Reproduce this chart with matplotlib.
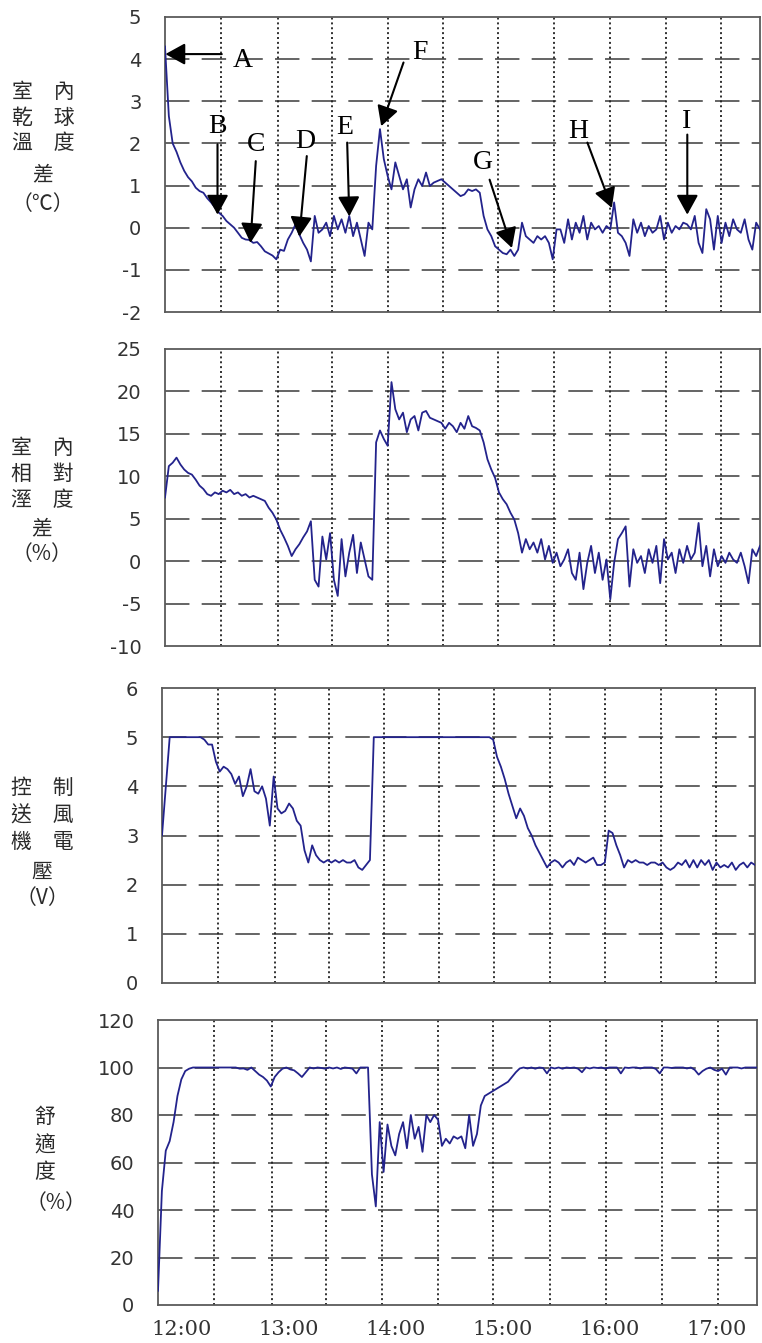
import numpy as np
import matplotlib
matplotlib.use('Agg')
from matplotlib import pyplot as plt

plt.rcParams['axes.unicode_minus'] = False

# time axis in hours, the record starts a little before 12:00
t_start = 11.776
t_end = 17.374
hour_ticks = [12, 13, 14, 15, 16, 17]
hour_labels = ['12:00', '13:00', '14:00', '15:00', '16:00', '17:00']
# the vertical grid of the original graphs is not on the hour
vgrid = [12.30, 12.84, 13.35, 13.87, 14.39, 14.91, 15.44, 15.96, 16.49, 17.01]

# indoor dry-bulb temperature difference (C)
temp_diff = [4.3, 2.65, 2.0, 1.8, 1.55, 1.35, 1.2, 1.1, 0.95, 0.87,
             0.83, 0.7, 0.6, 0.48, 0.36, 0.28, 0.16, 0.08, 0.0, -0.12,
             -0.24, -0.28, -0.29, -0.36, -0.34, -0.44, -0.56, -0.61, -0.66, -0.75,
             -0.52, -0.55, -0.28, -0.12, 0.08, -0.16, -0.36, -0.52, -0.8, 0.28,
             -0.12, -0.04, 0.12, -0.2, 0.28, -0.04, 0.2, -0.12, 0.28, -0.2,
             0.12, -0.28, -0.67, 0.12, -0.04, 1.47, 2.34, 1.63, 1.23, 0.91,
             1.55, 1.23, 0.91, 1.15, 0.48, 0.91, 1.15, 0.99, 1.31, 0.99,
             1.07, 1.11, 1.15, 1.07, 0.99, 0.91, 0.83, 0.75, 0.79, 0.91,
             0.87, 0.91, 0.83, 0.28, -0.04, -0.2, -0.44, -0.52, -0.6, -0.63,
             -0.52, -0.67, -0.52, 0.12, -0.2, -0.28, -0.36, -0.2, -0.28, -0.2,
             -0.36, -0.75, -0.04, -0.04, -0.36, 0.2, -0.28, 0.12, -0.12, 0.28,
             -0.28, 0.12, -0.04, 0.04, -0.12, 0.04, -0.04, 0.6, -0.12, -0.2,
             -0.36, -0.67, 0.2, -0.12, 0.12, -0.2, 0.04, -0.12, -0.04, 0.28,
             -0.28, 0.12, -0.12, 0.04, -0.04, 0.12, 0.08, -0.04, 0.28, -0.36,
             -0.6, 0.44, 0.2, -0.52, 0.28, -0.36, 0.12, -0.2, 0.2, -0.04,
             -0.12, 0.2, -0.28, -0.52, 0.12, -0.04]

# indoor relative humidity difference (%)
rh_diff = [7.5, 11.2, 11.6, 12.2, 11.4, 10.8, 10.4, 10.2, 9.6, 8.9,
           8.5, 7.9, 7.7, 8.1, 7.9, 8.3, 8.1, 8.4, 7.9, 8.1,
           7.7, 7.9, 7.5, 7.7, 7.5, 7.3, 7.1, 6.3, 5.7, 4.9,
           3.7, 2.8, 1.8, 0.6, 1.4, 2.0, 2.8, 3.5, 4.7, -2.2,
           -3.0, 2.9, 0.2, 3.3, -2.2, -4.1, 2.6, -1.8, 1.0, 3.1,
           -1.4, 2.2, 0.2, -1.8, -2.2, 14.0, 15.4, 14.4, 13.6, 21.1,
           17.9, 16.7, 17.5, 15.2, 16.7, 17.1, 15.4, 17.5, 17.7, 16.9,
           16.7, 16.5, 16.3, 15.6, 16.3, 15.9, 15.2, 16.3, 15.6, 17.1,
           15.9, 15.7, 15.4, 14.0, 12.0, 10.8, 9.8, 8.1, 7.3, 6.7,
           5.7, 4.9, 3.3, 1.0, 2.6, 1.4, 2.2, 1.0, 2.6, 0.2,
           1.8, -0.2, 1.0, -0.6, 0.2, 1.4, -1.4, -2.2, 1.0, -3.3,
           -0.2, 1.8, -1.4, 1.0, -2.2, 0.2, -4.5, -0.2, 2.6, 3.3,
           4.1, -3.0, 1.4, -0.2, 0.6, -1.4, 1.4, -0.2, 1.8, -2.6,
           2.6, 0.2, 1.0, -1.4, 1.4, -0.2, 1.8, 0.2, 1.0, 4.5,
           -0.6, 1.8, -1.8, 1.4, -0.6, 0.6, -0.2, 1.0, 0.2, -0.2,
           1.0, -0.6, -2.6, 1.4, 0.6, 1.8]

# fan control voltage (V)
fan_volt = [3.0, 4.0, 5.0, 5.0, 5.0, 5.0, 5.0, 5.0, 5.0, 5.0,
            5.0, 4.95, 4.85, 4.85, 4.5, 4.3, 4.4, 4.35, 4.25, 4.05,
            4.2, 3.8, 4.0, 4.35, 3.9, 3.85, 4.0, 3.75, 3.2, 4.2,
            3.55, 3.45, 3.5, 3.65, 3.55, 3.3, 3.2, 2.7, 2.45, 2.8,
            2.6, 2.5, 2.45, 2.5, 2.45, 2.5, 2.45, 2.5, 2.45, 2.45,
            2.5, 2.35, 2.3, 2.4, 2.5, 5.0, 5.0, 5.0, 5.0, 5.0,
            5.0, 5.0, 5.0, 5.0, 5.0, 5.0, 5.0, 5.0, 5.0, 5.0,
            5.0, 5.0, 5.0, 5.0, 5.0, 5.0, 5.0, 5.0, 5.0, 5.0,
            5.0, 5.0, 5.0, 5.0, 5.0, 5.0, 4.95, 4.6, 4.4, 4.15,
            3.85, 3.6, 3.35, 3.55, 3.4, 3.15, 3.0, 2.8, 2.65, 2.5,
            2.35, 2.45, 2.5, 2.45, 2.35, 2.45, 2.5, 2.4, 2.55, 2.5,
            2.45, 2.5, 2.55, 2.4, 2.4, 2.45, 3.1, 3.05, 2.8, 2.6,
            2.35, 2.5, 2.45, 2.5, 2.45, 2.45, 2.4, 2.45, 2.45, 2.4,
            2.45, 2.35, 2.3, 2.35, 2.45, 2.4, 2.5, 2.35, 2.5, 2.35,
            2.5, 2.4, 2.5, 2.3, 2.45, 2.35, 2.4, 2.35, 2.45, 2.3,
            2.4, 2.45, 2.35, 2.45, 2.4]

# comfort (%)
comfort = [6, 48, 65, 69, 77, 88, 95, 98.5, 99.5, 100,
           100, 100, 100, 100, 100, 100, 100, 100, 100, 100, 100,
           99.5, 99.6, 99.0, 100, 98.5, 97, 96, 94.5, 92,
           96, 98, 99.5, 100, 99.2, 98.8, 97.5, 96, 98, 100,
           99.6, 100, 99.8, 99.5, 100, 99.6, 100, 99.4, 100, 99.8,
           99.5, 97.5, 100, 100, 100, 55, 41.5, 77, 56, 76,
           67, 63, 72, 77, 66, 80, 70, 75, 64.5, 80,
           77, 80, 78, 67, 70, 68, 71, 70, 71, 66,
           80, 67, 72, 84, 88, 89, 90, 91, 92, 93,
           94, 96, 98, 99.6, 100, 99.6, 100, 99.5, 100, 99.8,
           97.5, 100, 99.6, 100, 99.5, 100, 99.8, 100, 99.5, 98,
           100, 99.6, 100, 99.8, 100, 99.5, 100, 100, 100, 97.5,
           100, 99.8, 100, 100, 99.6, 100, 100, 100, 99.4, 97.5,
           100, 100, 99.8, 100, 100, 100, 99.6, 100, 99.0, 97,
           98.5, 99.5, 100, 99.0, 98.5, 99.5, 97, 100, 100, 100,
           99.6, 100, 100, 100, 100]

# letters on the first graph: text, text position, arrow tail, arrow tip
marks = [('A', (12.51, 3.96), (12.31, 4.12), (11.78, 4.12)),
         ('B', (12.27, 2.41), (12.27, 1.98), (12.27, 0.31)),
         ('C', (12.63, 1.98), (12.63, 1.58), (12.58, -0.36)),
         ('D', (13.10, 2.05), (13.11, 1.70), (13.04, -0.21)),
         ('E', (13.47, 2.37), (13.49, 2.02), (13.51, 0.27)),
         ('F', (14.17, 4.16), (14.02, 3.92), (13.81, 2.41)),
         ('G', (14.77, 1.54), (14.83, 1.14), (15.04, -0.48)),
         ('H', (15.66, 2.29), (15.75, 2.02), (15.98, 0.47)),
         ('I', (16.68, 2.53), (16.69, 2.21), (16.69, 0.31))]

W, H = 762.0, 1343.0
fig = plt.figure(figsize=(W / 100, H / 100), dpi=100)

panels = [
    dict(box=(165, 17, 760, 312), data=temp_diff, ylim=(-2, 5), yticks=list(range(-2, 6)),
         rows=['室\u3000內', '乾\u3000球', '溫\u3000度', '差', '（℃）'],
         rx=[43, 43, 43, 43, 43], ry=[92, 118, 143, 174, 204]),
    dict(box=(165, 349, 760, 646), data=rh_diff, ylim=(-10, 25), yticks=list(range(-10, 30, 5)),
         rows=['室\u3000內', '相\u3000對', '溼\u3000度', '差', '（%）'],
         rx=[42, 42, 42, 42, 42], ry=[448, 474, 500, 528, 554]),
    dict(box=(162, 688, 755, 983), data=fan_volt, ylim=(0, 6), yticks=list(range(0, 7)),
         rows=['控\u3000制', '送\u3000風', '機\u3000電', '壓', '（V）'],
         rx=[42, 42, 42, 42, 42], ry=[788, 816, 842, 872, 898]),
    dict(box=(158, 1020, 757, 1305), data=comfort, ylim=(0, 120), yticks=list(range(0, 140, 20)),
         rows=['舒', '適', '度', '（%）'],
         rx=[45, 45, 45, 56], ry=[1117, 1146, 1172, 1203]),
]

line_color = '#23238c'
axes = []
for p in panels:
    l, t, r, b = p['box']
    ax = fig.add_axes([l / W, 1 - b / H, (r - l) / W, (b - t) / H])
    x = np.linspace(t_start, t_end, len(p['data']))
    ax.plot(x, p['data'], color=line_color, lw=1.3, zorder=3)
    ax.set_xlim(t_start, t_end)
    ax.set_ylim(*p['ylim'])
    ax.set_yticks(p['yticks'])
    ax.set_xticks(hour_ticks)
    ax.set_xticklabels([])
    for v in p['yticks'][1:-1]:
        ax.axhline(v, color='#3a3a3a', lw=1.1, ls=(0, (16, 8)), zorder=1)
    for g in vgrid:
        ax.axvline(g, color='#202020', lw=1.3, ls=(0, (1.1, 1.6)), zorder=1)
    ax.tick_params(length=0)
    ax.tick_params(axis='y', pad=17, labelsize=14, labelcolor='#333333')
    for s in ax.spines.values():
        s.set_color('#5a5a5a')
        s.set_linewidth(1.3)
    for txt, cx, cy in zip(p['rows'], p['rx'], p['ry']):
        fig.text(cx / W, 1 - cy / H, txt, ha='center', va='center', fontsize=15,
                 color='#2a2a2a', family=['Noto Sans CJK TC', 'DejaVu Sans'])
    axes.append(ax)

ax4 = axes[-1]
ax4.set_xticklabels(hour_labels, family='DejaVu Serif', fontsize=15, color='#333333')
ax4.tick_params(axis='x', pad=11)

ax1 = axes[0]
for letter, pos, tail, tip in marks:
    ax1.text(pos[0], pos[1], letter, ha='center', va='center', fontsize=20,
             family='Liberation Serif', color='black', zorder=5)
    ax1.annotate('', xy=tip, xytext=tail,
                 arrowprops=dict(arrowstyle='-|>,head_length=0.4,head_width=0.22',
                                 mutation_scale=30, color='black', lw=1.5,
                                 shrinkA=0, shrinkB=0),
                 zorder=5, annotation_clip=False)

plt.savefig('out.png', dpi=100)
